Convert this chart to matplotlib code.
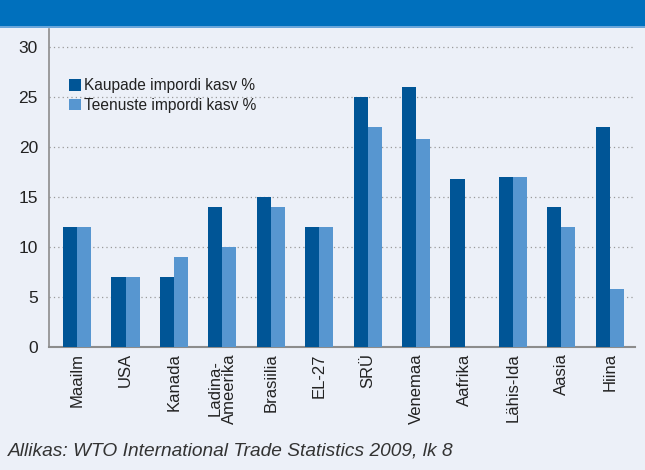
import numpy as np
import matplotlib.pyplot as plt
from matplotlib.patches import Rectangle

plt.rcParams['font.family'] = ['Liberation Sans', 'DejaVu Sans']

categories = ['Maailm', 'USA', 'Kanada', 'Ladina-\nAmeerika', 'Brasiilia', 'EL-27',
              'SRÜ', 'Venemaa', 'Aafrika', 'Lähis-Ida', 'Aasia', 'Hiina']
kaubad = [12, 7, 7, 14, 15, 12, 25, 26, 16.8, 17, 14, 22]
teenused = [12, 7, 9, 10, 14, 12, 22, 20.8, np.nan, 17, 12, 5.8]
series_names = ['Kaupade impordi kasv %', 'Teenuste impordi kasv %']
source_text = 'Allikas: WTO International Trade Statistics 2009, lk 8'

bg = '#ecf0f8'
dark = '#005596'
light = '#5796d0'

fig = plt.figure(figsize=(6.45, 4.7), dpi=100)
fig.patch.set_facecolor(bg)

# blue header band
fig.patches.append(Rectangle((0, 1 - 26/470), 1, 26/470, transform=fig.transFigure,
                             facecolor='#0070bd', edgecolor='none', zorder=0))
fig.patches.append(Rectangle((0, 1 - 27.5/470), 1, 1.5/470, transform=fig.transFigure,
                             facecolor='#6aa6da', edgecolor='none', zorder=0))

ax = fig.add_axes([49/645, 123/470, 586/645, 318/470])
ax.set_facecolor(bg)

x = np.arange(len(categories))
w = 0.29
ax.bar(x - w/2, kaubad, w, color=dark, label=series_names[0], zorder=3)
ax.bar(x + w/2, teenused, w, color=light, label=series_names[1], zorder=3)

ax.set_xlim(-0.58, 11.52)
ax.set_ylim(0, 31.8)
ax.set_yticks(range(0, 31, 5))
ax.yaxis.grid(True, linestyle=(0, (1, 2.5)), color='#9a9a9a', linewidth=0.9, zorder=0)
ax.tick_params(axis='y', length=0, pad=8, labelsize=12.5, labelcolor='#222222')
ax.set_xticks(x)
ax.set_xticklabels(categories, rotation=90, fontsize=12, color='#222222',
                   linespacing=0.95, va='top')
ax.tick_params(axis='x', length=0, pad=4.5)

for s in ['top', 'right']:
    ax.spines[s].set_visible(False)
ax.spines['left'].set_color('#8c8c8c')
ax.spines['bottom'].set_color('#8c8c8c')
ax.spines['left'].set_linewidth(1.2)
ax.spines['bottom'].set_linewidth(1.5)

ax.legend(loc='upper left', bbox_to_anchor=(0.034, 0.845), frameon=False,
          fontsize=11.2, handlelength=0.75, handleheight=0.75, handletextpad=0.2,
          labelspacing=0.3, borderaxespad=0, borderpad=0, labelcolor='#222222')

fig.text(8/645, 1 - 455/470, source_text, fontsize=13.8, style='italic',
         color='#333333', ha='left', va='baseline')

plt.savefig('out.png', dpi=100, facecolor=bg)
